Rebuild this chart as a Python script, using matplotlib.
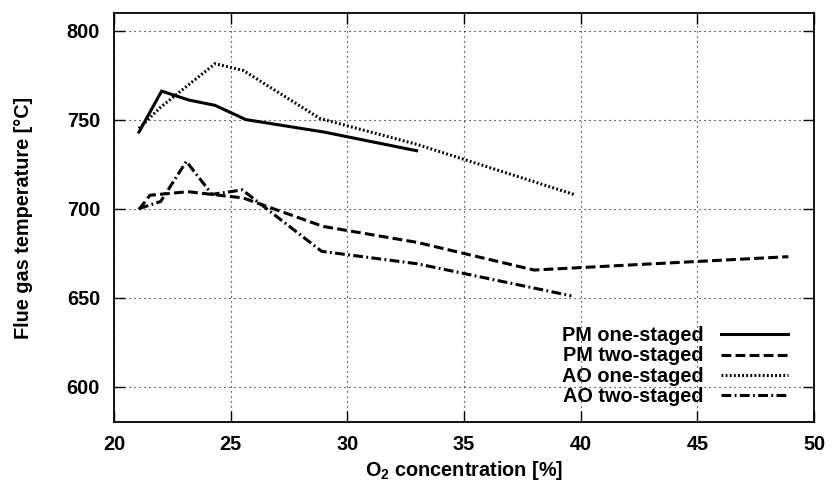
import matplotlib
matplotlib.use("Agg")
import matplotlib.pyplot as plt

plt.rcParams["font.family"] = ["Liberation Sans", "DejaVu Sans"]
plt.rcParams["font.weight"] = "bold"
plt.rcParams["axes.labelweight"] = "bold"
plt.rcParams["mathtext.fontset"] = "custom"
plt.rcParams["mathtext.bf"] = "Liberation Sans:bold"
plt.rcParams["mathtext.rm"] = "Liberation Sans:bold"
plt.rcParams["mathtext.default"] = "bf"

# O2 concentration [%] and flue gas temperature [°C]
pm_one_x = [21.07, 22.04, 23.2, 24.33, 25.65, 29.0, 32.97]
pm_one_y = [743, 766, 761, 758, 750, 743, 732.5]

pm_two_x = [21.07, 21.54, 23.17, 25.53, 28.96, 33.0, 38.0, 48.9]
pm_two_y = [699.5, 707.5, 709.5, 706, 690, 681, 665.5, 673]

ao_one_x = [21.07, 22.0, 24.33, 25.54, 28.83, 33.0, 39.7]
ao_one_y = [745, 757, 781.4, 777.6, 750.6, 736, 708]

ao_two_x = [21.07, 22.0, 23.1, 24.2, 25.5, 28.9, 33.0, 39.6]
ao_two_y = [700, 704, 726.5, 708, 710.5, 676, 669, 651]

x_ticks = [20, 25, 30, 35, 40, 45, 50]
y_ticks = [600, 650, 700, 750, 800]

FS = 14.3

fig = plt.figure(figsize=(8.34, 4.91), dpi=100)
ax = fig.add_axes([0.1367, 0.140, 0.8393, 0.834])

lw = 2.2
ax.plot(pm_one_x, pm_one_y, color="black", lw=lw, label="PM one-staged",
        solid_joinstyle="miter")
ax.plot(pm_two_x, pm_two_y, color="black", lw=lw, label="PM two-staged",
        dashes=(3.2, 1.4))
ax.plot(ao_one_x, ao_one_y, color="black", lw=lw, label="AO one-staged",
        dashes=(0.6, 0.75))
ax.plot(ao_two_x, ao_two_y, color="black", lw=lw, label="AO two-staged",
        dashes=(3.2, 1.1, 0.6, 1.1))

ax.set_xlim(20, 50)
ax.set_ylim(580, 810)
ax.set_xticks(x_ticks)
ax.set_yticks(y_ticks)

ax.grid(True, color="black", linestyle=(0, (1, 3.5)), linewidth=0.8)
ax.set_axisbelow(True)

for side in ["left", "right", "top", "bottom"]:
    ax.spines[side].set_linewidth(1.3)

ax.tick_params(axis="both", which="major", direction="in", length=8, width=1.0,
               top=True, right=True, labelsize=FS)
ax.tick_params(axis="y", pad=10)
ax.tick_params(axis="x", pad=9)

ax.set_xlabel("O$_2$ concentration [%]", fontsize=FS, labelpad=4)
ax.set_ylabel("Flue gas temperature [°C]", fontsize=FS, labelpad=24)

ax.legend(loc="lower right", bbox_to_anchor=(0.963, 0.04), frameon=False,
          markerfirst=False, fontsize=FS, handlelength=3.4, handletextpad=0.85,
          labelspacing=0.06, borderpad=0, borderaxespad=0)

fig.savefig("out.png", dpi=100)
